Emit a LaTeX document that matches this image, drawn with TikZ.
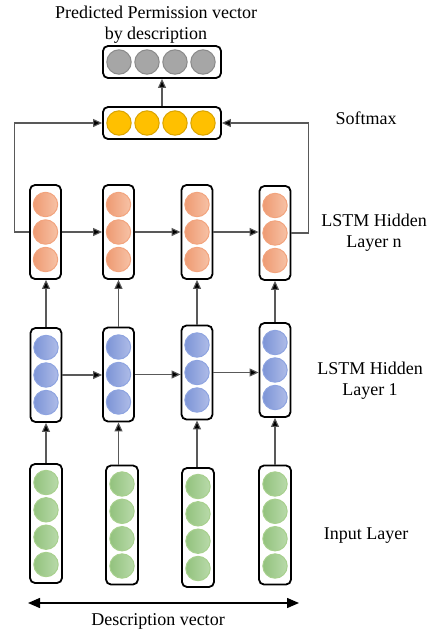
\documentclass[tikz,border=0pt]{standalone}
\usepackage{fontspec}
\setmainfont{Liberation Serif}
\usetikzlibrary{arrows.meta}

\definecolor{orL}{HTML}{EE9A72}
\definecolor{orR}{HTML}{F7C2A6}
\definecolor{orE}{HTML}{F2A47E}
\definecolor{blL}{HTML}{7D94D6}
\definecolor{blR}{HTML}{AEBCE8}
\definecolor{blE}{HTML}{8EA4E0}
\definecolor{grL}{HTML}{92C27D}
\definecolor{grR}{HTML}{B9DAAA}
\definecolor{grE}{HTML}{A8D08E}
\definecolor{yel}{HTML}{FFC000}
\definecolor{yelE}{HTML}{D9A300}
\definecolor{gry}{HTML}{A6A6A6}
\definecolor{gryE}{HTML}{8A8A8A}

\tikzset{
  box/.style={draw,line width=0.9pt,rounded corners=2.5pt,inner sep=0pt},
  unit/.style={circle,inner sep=0pt,minimum size=12.2pt,line width=0.5pt},
  hnunit/.style={unit,draw=orE,left color=orL,right color=orR},
  haunit/.style={unit,draw=blE,left color=blL,right color=blR},
  inunit/.style={unit,draw=grE,left color=grL,right color=grR},
  conn/.style={draw=black!65,line width=0.55pt,-{Triangle[length=4.5pt,width=4pt,fill=black]}}
}

\begin{document}
\begin{tikzpicture}[x=0.5pt,y=-0.5pt,font=\fontsize{9}{10.5}\selectfont]
\useasboundingbox (0,0) rectangle (435,632);

% output and softmax
\node[box,minimum width=59pt,minimum height=16pt] (out) at (162,62) {};
\node[box,minimum width=59pt,minimum height=16pt] (soft) at (162,123) {};
\foreach \i/\dx in {1/-42,2/-14,3/14,4/42}{
  \node[unit,draw=gryE,fill=gry] (out-\i) at (161+\dx,62) {};
  \node[unit,draw=yelE,fill=yel] (soft-\i) at (161+\dx,123) {};
}
\node[align=center] (title) at (156,25) {Predicted Permission vector\\by description};

% columns
\foreach \c/\xn/\yn/\xa/\ya/\xi/\yi in {1/45.5/232/46/375/46/523.5,2/118.5/232/118.5/374.5/122/525,3/197/232/197/372.5/198/527.5,4/275/233/275/370/275/525}{
  \node[box,minimum width=15.5pt,minimum height=47pt] (hn-\c) at (\xn,\yn) {};
  \node[box,minimum width=15.5pt,minimum height=47pt] (ha-\c) at (\xa,\ya) {};
  \node[box,minimum width=16pt,minimum height=59.5pt] (in-\c) at (\xi,\yi) {};
  \foreach \j/\dy in {1/-27.5,2/0,3/27.5}{
    \node[hnunit] (hn-\c-\j) at (\xn,\yn+\dy) {};
    \node[haunit] (ha-\c-\j) at (\xa,\ya+\dy) {};
  }
  \foreach \j/\dy in {1/-41,2/-13.7,3/13.7,4/41}
    \node[inunit] (in-\c-\j) at (\xi,\yi+\dy) {};
}

% connectors
\foreach \c in {1,...,4}{
  \draw[conn] (ha-\c.south |- in-\c.north) -- (ha-\c.south);
  \draw[conn] (ha-\c.north) -- (ha-\c.north |- hn-\c.south);
}
\foreach \c/\d in {1/2,2/3,3/4}{
  \draw[conn] (hn-\c.east |- hn-\c-2) -- (hn-\d.west |- hn-\c-2);
  \draw[conn] (ha-\c.east |- ha-\c-2) -- (ha-\d.west |- ha-\c-2);
}
\draw[conn] (hn-1.west) -- ++(-15,0) |- (soft.west);
\draw[conn] (hn-4.east) -- ++(17,0) |- (soft.east);
\draw[conn] (soft.north) -- (out.south);

% labels
\node (lsoft) at (366,118) {Softmax};
\node[align=center] (lhn) at (374,233) {LSTM Hidden\\Layer n};
\node[align=center] (lha) at (370,381) {LSTM Hidden\\Layer 1};
\node (lin) at (366,536) {Input Layer};

% description vector
\coordinate (dl) at (28,603);
\coordinate (dr) at (299,603);
\draw[line width=0.7pt,{Triangle[length=6pt,width=5pt]}-{Triangle[length=6pt,width=5pt]}] (dl) -- (dr);
\node (ldesc) at (158,621) {Description vector};
\end{tikzpicture}
\end{document}
